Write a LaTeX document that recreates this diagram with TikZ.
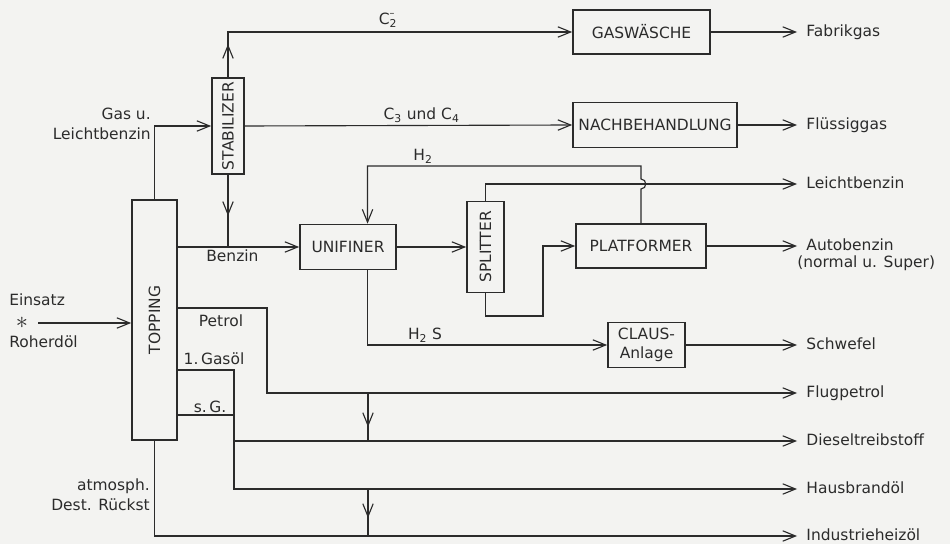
\documentclass[tikz,border=0pt]{standalone}
\usepackage{fontspec}
\setmainfont{DejaVu Sans}
\definecolor{rfink}{HTML}{2B2B2B}
\definecolor{rfpaper}{HTML}{F3F3F1}
\usetikzlibrary{calc,arrows.meta,decorations.markings}

\begin{document}
\begin{tikzpicture}[
    x=0.25mm, y=-0.25mm,
    every node/.style={font=\fontsize{11}{15.5}\selectfont, text=rfink},
    unit/.style ={rectangle, draw=rfink, line width=1.2pt, inner sep=0pt, align=center},
    pipe/.style={draw=rfink, line width=0.8pt},
    flow/.style={pipe, -{Straight Barb[length=3.2mm, width=2.6mm]}},
    midflow/.style={pipe, postaction={decorate}, decoration={markings,
        mark=at position #1 with {\arrow{Straight Barb[length=3.2mm, width=2.6mm]}}}},
    lbl/.style={inner sep=1.5pt},
    prod/.style={anchor=west, inner xsep=2.3mm, inner ysep=0pt, text height=9pt, text depth=2pt},
  ]

  \useasboundingbox (0,0) rectangle (950,544);
  \fill[rfpaper] (0,0) rectangle (950,544);

  % feed and columns
  \node[anchor=west, inner sep=0pt] (EINS) at (9,300) {Einsatz};
  \node[font=\fontsize{17}{17}\selectfont, inner sep=0pt] (FEED) at (22,323) {$\ast$};
  \node[anchor=west, inner sep=0pt] (ROH) at (9,342) {Roherdöl};

  \node[unit, minimum width=11.25mm, minimum height=60mm] (TOPP) at (154.5,320) {\rotatebox{90}{TOPPING}};
  \node[unit, minimum width=8mm, minimum height=24mm] (STAB) at (228,126) {\rotatebox{90}{STABILIZER}};

  \node[unit, minimum width=34.25mm, minimum height=11mm] (GASW) at (641.5,32) {GASWÄSCHE};
  \node[unit, minimum width=41mm, minimum height=11.25mm] (NACH) at (655,125) {NACHBEHANDLUNG};
  \node[unit, minimum width=24mm, minimum height=11.25mm] (UNIF) at (348,247) {UNIFINER};
  \node[unit, minimum width=9.25mm, minimum height=22.75mm] (SPLIT) at (485.5,247) {\rotatebox{90}{SPLITTER}};
  \node[unit, minimum width=32.5mm, minimum height=11mm] (PLAT) at (641,246) {PLATFORMER};
  \node[unit, minimum width=19.25mm, minimum height=11.25mm,
        font=\fontsize{11}{13}\selectfont] (CLAUS) at (646.5,345) {CLAUS-\\Anlage};

  % products
  \node[prod] (FABRIK) at (797,32) {Fabrikgas};
  \node[prod] (FLUESS) at (797,125) {Flüssiggas};
  \node[prod] (LEICHT) at (797,184) {Leichtbenzin};
  \node[prod] (AUTO) at (797,246) {Autobenzin};
  \node[anchor=west, inner sep=0pt] (AUTONOTE) at (797,263) {(normal u. Super)};
  \node[prod] (SCHWEFEL) at (797,345) {Schwefel};
  \node[prod] (FLUG) at (797,393) {Flugpetrol};
  \node[prod] (DIESEL) at (797,441) {Dieseltreibstoff};
  \node[prod] (HAUS) at (797,489) {Hausbrandöl};
  \node[prod] (INDUS) at (797,536) {Industrieheizöl};

  % side labels
  \node[anchor=east, align=right, inner sep=0pt, font=\fontsize{11}{14.5}\selectfont] (GASLBL) at (151,124) {Gas u.\\Leichtbenzin};
  \node[anchor=east, align=right, inner sep=0pt, font=\fontsize{11}{14.5}\selectfont] (RUECK) at (150,495) {atmosph.\\Dest. Rückst};
  \node[lbl] (C2LBL) at (388,20) {C\rlap{\raisebox{0.9ex}{\fontsize{7}{7}\selectfont --}}\textsubscript{2}};
  \node[lbl] (H2LBL) at (423,156) {H\textsubscript{2}};
  \node[lbl] (PETLBL) at (221,321) {Petrol};
  \node[lbl] (GASOELLBL) at (214,359) {1.\,Gasöl};
  \node[lbl] (SGLBL) at (210,407) {s.\,G.};

  \coordinate (HOP) at (PLAT.north |- LEICHT.west);
  \coordinate (RECYC) at (543,316);
  \coordinate (PETX) at (267,308);
  \coordinate (GASX) at (234,370);
  \coordinate (SGX) at (234,415);
  \coordinate (MIXX) at (368,0);

  \draw[flow, shorten <=2.5mm] (FEED) -- (FEED -| TOPP.west);
  \draw[flow] (TOPP.north) |- (STAB.west);
  \draw[flow, midflow=8.25mm] (STAB.north) |- (GASW.west);
  \draw[flow] (STAB.east) -- (NACH.west)
    node[lbl, pos=0.54, above] {C\textsubscript{3} und C\textsubscript{4}};
  \draw[flow] (GASW.east) -- (FABRIK.west);
  \draw[flow] (NACH.east) -- (FLUESS.west);

  \draw[flow] (TOPP.east |- UNIF.west) -- (UNIF.west)
    node[lbl, pos=0.45, below] {Benzin};
  \draw[midflow=10.25mm] (STAB.south) -- (STAB.south |- UNIF.west);
  \draw[flow] (UNIF.east) -- (UNIF.east -| SPLIT.west);
  \draw[flow] (SPLIT.north) |- (LEICHT.west);
  \draw[flow] (SPLIT.south) |- (RECYC) |- (PLAT.west);
  \draw[flow] (PLAT.north) -- ($(HOP)+(0,5)$) to[out=0, in=0, looseness=1.6] ($(HOP)+(0,-5)$)
    -- ($(HOP)+(0,-18)$) -| ($(UNIF.north)!0.4!(UNIF.north east)$);
  \draw[flow] (PLAT.east) -- (AUTO.west);
  \draw[flow] ($(UNIF.south)!0.4!(UNIF.south east)$) |- (CLAUS.west)
    node[lbl, pos=0.62, above] {H\textsubscript{2} S};
  \draw[flow] (CLAUS.east) -- (SCHWEFEL.west);

  \draw[flow] (TOPP.east |- PETX) -- (PETX) |- (FLUG.west);
  \draw[flow] (TOPP.east |- GASX) -- (GASX) |- (HAUS.west);
  \draw[pipe] (TOPP.east |- SGX) -- (SGX);
  \draw[flow] (GASX |- DIESEL.west) -- (DIESEL.west);
  \draw[midflow=8.5mm] (MIXX |- FLUG.west) -- (MIXX |- DIESEL.west);
  \draw[midflow=7.25mm] (MIXX |- HAUS.west) -- (MIXX |- INDUS.west);
  \draw[flow] (TOPP.south) |- (INDUS.west);

\end{tikzpicture}
\end{document}
